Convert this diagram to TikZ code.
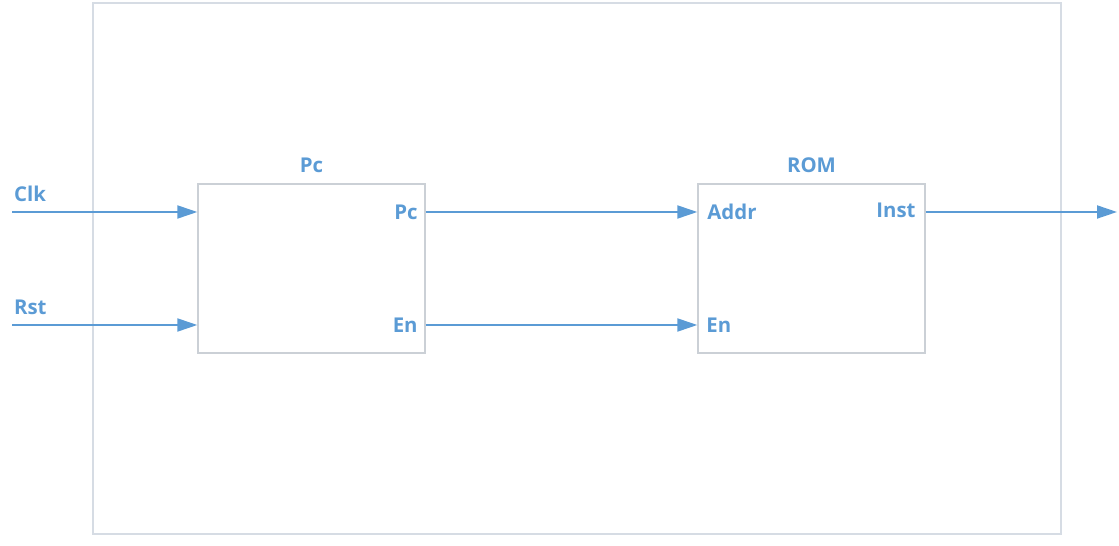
\documentclass[tikz,border=0pt]{standalone}
\usepackage{fontspec}
\setmainfont{Open Sans}
\usetikzlibrary{arrows.meta,positioning}
\definecolor{wire}{HTML}{5B9BD5}
\definecolor{framegray}{HTML}{D6DCE4}
\definecolor{edgegray}{HTML}{CBD0D6}
\tikzset{
  blk/.style ={rectangle,draw=edgegray,line width=0.8pt,minimum width=4.54cm,minimum height=3.38cm,inner sep=0pt},
  lbl/.style ={text=wire,font=\bfseries\fontsize{11.6}{13}\selectfont,inner sep=1pt},
  sig/.style ={draw=wire,line width=1.1pt,-{Triangle[length=4mm,width=2.6mm]}}
}

\begin{document}
\begin{tikzpicture}[x=0.02cm,y=-0.02cm]
\useasboundingbox (0,0) rectangle (1119,546);

% -------- outer frame --------
\draw[framegray,line width=0.8pt] (93,3) rectangle (1061,534);

% -------- blocks --------
\node[blk] (pc)  at (311.5,268.5) {};
\node[blk] (rom) at (811.5,268.5) {};
\node[lbl, above=1.8mm of pc]  (pctitle)  {Pc};
\node[lbl, above=1.8mm of rom] (romtitle) {ROM};

% -------- free ends --------
\coordinate (clk0)  at (12,212);
\coordinate (rst0)  at (12,325);
\coordinate (inst1) at (1117,212);

% -------- port labels --------
\node[lbl, above right=1.7mm and 0mm of clk0] (clk) {Clk};
\node[lbl, above right=1.7mm and 0mm of rst0] (rst) {Rst};
\node[lbl, anchor=east, xshift=-0.12cm] (pcq)   at (pc.east |- clk0)  {Pc};
\node[lbl, anchor=east, xshift=-0.12cm] (pcen)  at (pc.east |- rst0)  {En};
\node[lbl, anchor=west, xshift=0.16cm]  (addr)  at (rom.west |- clk0) {Addr};
\node[lbl, anchor=west, xshift=0.14cm]  (romen) at (rom.west |- rst0) {En};
\node[lbl, anchor=east, xshift=-0.16cm, yshift=0.04cm] (inst) at (rom.east |- clk0) {Inst};

% -------- wiring --------
\draw[sig] (clk0) -- (pc.west |- clk0);
\draw[sig] (rst0) -- (pc.west |- rst0);
\draw[sig] (pc.east |- clk0) -- (rom.west |- clk0);
\draw[sig] (pc.east |- rst0) -- (rom.west |- rst0);
\draw[sig] (rom.east |- clk0) -- (inst1);

\end{tikzpicture}
\end{document}
